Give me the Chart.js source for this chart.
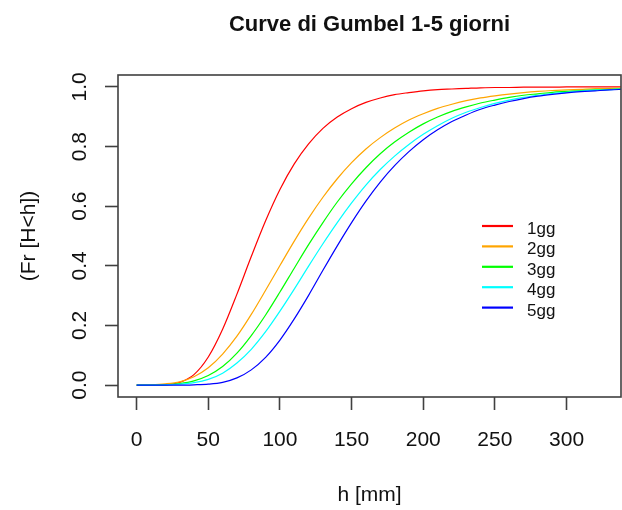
<!DOCTYPE html>
<html>
<head>
<meta charset="utf-8">
<script src="https://cdn.jsdelivr.net/npm/chart.js@4/dist/chart.umd.min.js"></script>
<style>
  html, body { margin: 0; padding: 0; background: #ffffff; }
  #wrap { width: 622px; height: 510px; position: relative; }
  canvas { display: block; }
</style>
</head>
<body>
<div id="wrap"><canvas id="c" width="622" height="510"></canvas></div>
<script>
// ---- data ----
const hValues = [0,10,20,30,40,50,60,70,80,90,100,110,120,130,140,150,160,170,180,190,200,210,220,230,240,250,260,270,280,290,300,310,320,330,340,350];
const gg1 = [0,0,0.001,0.009,0.035,0.094,0.187,0.305,0.431,0.551,0.656,0.742,0.809,0.861,0.899,0.927,0.948,0.963,0.974,0.981,0.987,0.991,0.993,0.995,0.997,0.998,0.998,0.999,0.999,0.999,1.0,1.0,1.0,1.0,1.0,1.0];
const gg2 = [0,0.001,0.004,0.011,0.028,0.058,0.104,0.164,0.237,0.318,0.401,0.483,0.560,0.630,0.692,0.746,0.792,0.830,0.862,0.889,0.910,0.928,0.942,0.954,0.963,0.970,0.976,0.981,0.985,0.988,0.990,0.992,0.994,0.995,0.996,0.997];
const gg3 = [0,0,0.001,0.005,0.014,0.032,0.062,0.107,0.166,0.235,0.312,0.392,0.471,0.545,0.614,0.675,0.729,0.776,0.815,0.848,0.876,0.899,0.918,0.933,0.946,0.956,0.965,0.972,0.977,0.982,0.985,0.988,0.990,0.992,0.994,0.995];
const gg4 = [0,0,0.001,0.003,0.008,0.019,0.040,0.074,0.120,0.179,0.248,0.322,0.399,0.474,0.545,0.611,0.671,0.723,0.768,0.807,0.841,0.870,0.895,0.915,0.931,0.945,0.956,0.965,0.972,0.978,0.982,0.986,0.989,0.991,0.993,0.994];
const gg5 = [0,0,0,0,0.001,0.003,0.009,0.024,0.051,0.093,0.151,0.222,0.301,0.385,0.467,0.545,0.617,0.681,0.736,0.783,0.823,0.856,0.884,0.906,0.925,0.939,0.951,0.961,0.969,0.975,0.980,0.984,0.987,0.990,0.992,0.994];
const seriesLabels = ['1gg','2gg','3gg','4gg','5gg'];
const seriesColors = ['#ff0000','#ffa500','#00ff00','#00ffff','#0000ff'];
const xTicks = [0,50,100,150,200,250,300];
const yTicks = [0,0.2,0.4,0.6,0.8,1.0];
const yTickLabels = ['0.0','0.2','0.4','0.6','0.8','1.0'];
const titleText = 'Curve di Gumbel 1-5 giorni';
const xTitle = 'h [mm]';
const yTitle = '(Fr [H<h])';

const allSeries = [gg1, gg2, gg3, gg4, gg5];
const datasets = allSeries.map((s, i) => ({
  label: seriesLabels[i],
  data: hValues.map((h, j) => ({x: h, y: s[j]})),
  borderColor: seriesColors[i],
  borderWidth: 1.2,
  pointRadius: 0,
  fill: false,
  cubicInterpolationMode: 'monotone',
  clip: 0,
  order: allSeries.length - i
}));

const FONT = '"Liberation Sans", Arial, sans-serif';
const TXT = '#111111';
const AX = '#404040';

const rPlot = {
  id: 'rPlot',
  afterDraw(chart) {
    const ctx = chart.ctx;
    const a = chart.chartArea;
    ctx.save();
    // box
    ctx.strokeStyle = AX;
    ctx.lineWidth = 1.6;
    ctx.strokeRect(a.left, a.top, a.right - a.left, a.bottom - a.top);
    // title
    ctx.fillStyle = TXT;
    ctx.font = 'bold 22px ' + FONT;
    ctx.textAlign = 'center';
    ctx.textBaseline = 'alphabetic';
    ctx.fillText(titleText, (a.left + a.right) / 2, 31);
    // x title
    ctx.font = '21px ' + FONT;
    ctx.fillText(xTitle, (a.left + a.right) / 2, 501);
    // y title (rotated)
    ctx.save();
    ctx.translate(35, (a.top + a.bottom) / 2);
    ctx.rotate(-Math.PI / 2);
    ctx.textBaseline = 'alphabetic';
    ctx.fillText(yTitle, 0, 0);
    ctx.restore();
    // y tick labels (rotated like R)
    const ys = chart.scales.y;
    yTicks.forEach((v, i) => {
      const py = ys.getPixelForValue(v);
      ctx.save();
      ctx.translate(86, py);
      ctx.rotate(-Math.PI / 2);
      ctx.textAlign = 'center';
      ctx.textBaseline = 'alphabetic';
      ctx.fillText(yTickLabels[i], 0, 0);
      ctx.restore();
    });
    // legend (no box)
    const lx0 = 482, lx1 = 513, tx = 527, ly0 = 226, step = 20.4;
    ctx.font = '17px ' + FONT;
    ctx.textAlign = 'left';
    chart.data.datasets.forEach((d, i) => {
      const y = ly0 + i * step;
      ctx.strokeStyle = d.borderColor;
      ctx.lineWidth = 2.2;
      ctx.beginPath();
      ctx.moveTo(lx0, y);
      ctx.lineTo(lx1, y);
      ctx.stroke();
      ctx.fillStyle = TXT;
      ctx.fillText(d.label, tx, y + 8);
    });
    ctx.restore();
  }
};

new Chart(document.getElementById('c'), {
  type: 'line',
  data: { datasets },
  options: {
    responsive: false,
    animation: false,
    devicePixelRatio: 1,
    layout: { padding: { top: 75, right: 1, left: 0, bottom: 0 } },
    plugins: { legend: { display: false }, tooltip: { enabled: false }, title: { display: false } },
    scales: {
      x: {
        type: 'linear',
        min: -13,
        max: 338,
        afterBuildTicks: (s) => { s.ticks = xTicks.map(v => ({value: v})); },
        afterFit: (s) => { s.height = 113; },
        grid: { drawOnChartArea: false, drawTicks: true, tickLength: 13, tickColor: AX, tickWidth: 1.6 },
        border: { display: false },
        ticks: { color: TXT, font: { family: FONT, size: 21 }, padding: 18, maxRotation: 0, autoSkip: false,
                 callback: (v) => String(v) }
      },
      y: {
        type: 'linear',
        min: -0.04,
        max: 1.04,
        afterBuildTicks: (s) => { s.ticks = yTicks.map(v => ({value: v})); },
        afterFit: (s) => { s.width = 118; },
        grid: { drawOnChartArea: false, drawTicks: true, tickLength: 13, tickColor: AX, tickWidth: 1.6 },
        border: { display: false },
        ticks: { display: false }
      }
    }
  },
  plugins: [rPlot]
});
</script>
</body>
</html>
